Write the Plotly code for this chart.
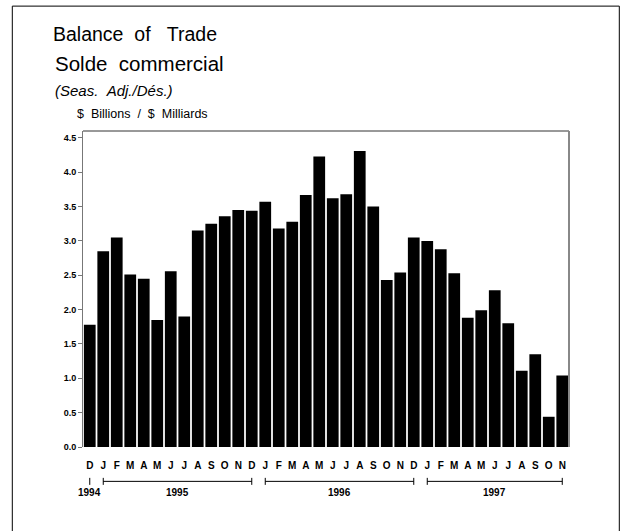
import plotly.graph_objects as go

months = ["D", "J", "F", "M", "A", "M", "J", "J", "A", "S", "O", "N",
          "D", "J", "F", "M", "A", "M", "J", "J", "A", "S", "O", "N",
          "D", "J", "F", "M", "A", "M", "J", "J", "A", "S", "O", "N"]
values = [1.78, 2.85, 3.05, 2.51, 2.45, 1.85, 2.56, 1.90, 3.15, 3.25, 3.36, 3.45,
          3.44, 3.57, 3.18, 3.28, 3.67, 4.23, 3.62, 3.68, 4.31, 3.50, 2.43, 2.54,
          3.05, 3.00, 2.88, 2.53, 1.88, 1.99, 2.28, 1.80, 1.11, 1.35, 0.44, 1.04]
years = ["1994", "1995", "1996", "1997"]
year_start = [0, 1, 13, 25]
year_end = [0, 12, 24, 35]
y_ticks = [0.0, 0.5, 1.0, 1.5, 2.0, 2.5, 3.0, 3.5, 4.0, 4.5]

W, H = 621, 531
L, R, T, B = 82.7, 568.7, 131.0, 447.3  # plot area in window pixels

def px(x):
    return (x - L) / (R - L)

def py(y):
    return (B - y) / (B - T)

xs = list(range(len(values)))
fig = go.Figure(go.Bar(x=xs, y=values, marker=dict(color="black", line=dict(width=0)),
                       hoverinfo="skip"))

font = "Liberation Sans, Arial, sans-serif"
fig.update_layout(
    width=W, height=H,
    margin=dict(l=L, r=W - R, t=T, b=H - B, pad=0),
    paper_bgcolor="white", plot_bgcolor="white",
    bargap=0.13, showlegend=False,
    font=dict(family=font, color="black"),
)
fig.update_xaxes(
    range=[-0.5, len(values) - 0.5], tickmode="array", tickvals=xs, ticktext=months,
    showgrid=False, zeroline=False, showline=False, ticks="",
    tickfont=dict(size=10, family=font, weight="bold"), ticklabelstandoff=11,
)
fig.update_yaxes(
    range=[0, 4.6], tickmode="array", tickvals=y_ticks,
    ticktext=[f"{v:.1f}" for v in y_ticks],
    showgrid=False, zeroline=False, showline=True, linecolor="#777", linewidth=1,
    ticks="outside", ticklen=4, tickcolor="#777",
    tickfont=dict(size=9, family=font, weight="bold"),
)

shapes = []
shapes.append(dict(type="line", xref="paper", yref="paper", x0=0, x1=1, y0=1, y1=1,
                   line=dict(color="#333", width=1)))
shapes.append(dict(type="line", xref="paper", yref="paper", x0=1, x1=1, y0=0, y1=1,
                   line=dict(color="#888", width=2)))
shapes.append(dict(type="rect", xref="paper", yref="paper",
                   x0=px(12), x1=px(619), y0=py(545), y1=py(6),
                   line=dict(color="black", width=1), fillcolor="rgba(0,0,0,0)"))
yl = py(481.7)
th = 3.5 / (B - T)
annotations = []
for yr, s, e in zip(years, year_start, year_end):
    if s != e:
        shapes.append(dict(type="line", xref="x", yref="paper", x0=s, x1=e, y0=yl, y1=yl,
                           line=dict(color="black", width=1)))
    for xv in sorted({s, e}):
        shapes.append(dict(type="line", xref="x", yref="paper", x0=xv, x1=xv,
                           y0=yl - th, y1=yl + th, line=dict(color="black", width=1)))
    annotations.append(dict(xref="x", yref="paper", x=(s + e) / 2, y=py(492.5),
                            text=yr, showarrow=False, xanchor="center", yanchor="middle",
                            font=dict(size=10, family=font, weight="bold")))

annotations += [
    dict(xref="paper", yref="paper", x=px(51), y=py(33.5),
         text="Balance&nbsp;&nbsp;of&nbsp;&nbsp;&nbsp;Trade",
         showarrow=False, xanchor="left", yanchor="middle", font=dict(size=19.5, family=font)),
    dict(xref="paper", yref="paper", x=px(53), y=py(63.5),
         text="Solde&nbsp;&nbsp;commercial",
         showarrow=False, xanchor="left", yanchor="middle", font=dict(size=20.5, family=font)),
    dict(xref="paper", yref="paper", x=px(53), y=py(90), text="<i>(Seas.&nbsp;&nbsp;Adj./Dés.)</i>",
         showarrow=False, xanchor="left", yanchor="middle", font=dict(size=15, family=font)),
    dict(xref="paper", yref="paper", x=px(75), y=py(113.5),
         text="$&nbsp;&nbsp;Billions&nbsp;&nbsp;/&nbsp;&nbsp;$&nbsp;&nbsp;Milliards",
         showarrow=False, xanchor="left", yanchor="middle", font=dict(size=12.5, family=font)),
]
fig.update_layout(shapes=shapes, annotations=annotations)
fig.write_html("out.html",
               config={"displayModeBar": False},
               post_script="document.body.style.margin='0';"
                           "document.documentElement.style.overflow='hidden';")
